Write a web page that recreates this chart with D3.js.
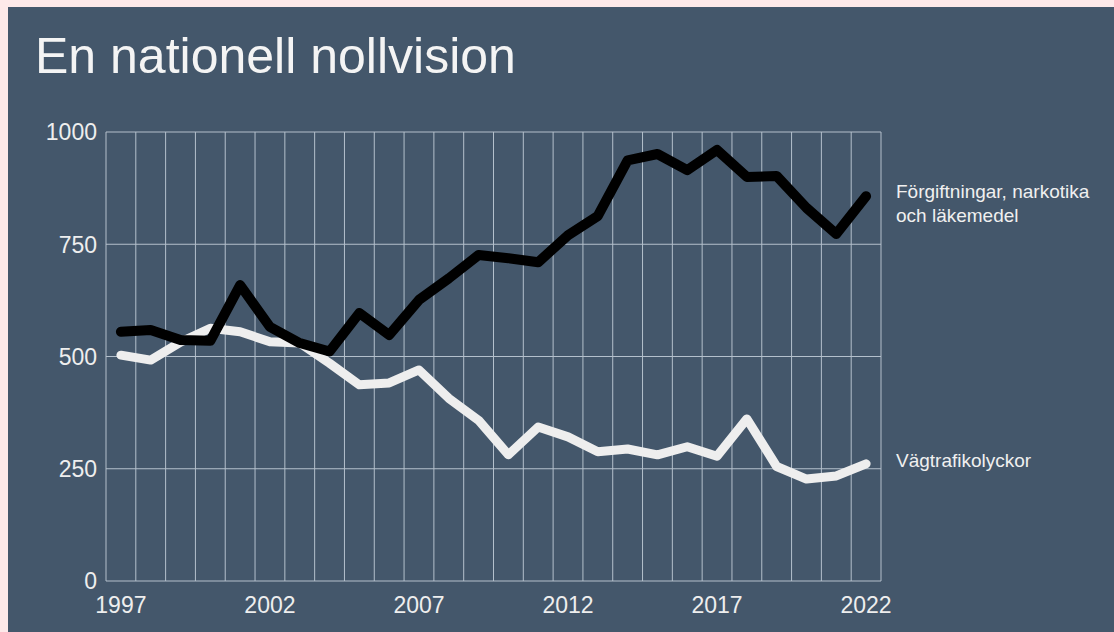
<!DOCTYPE html>
<html>

<head>
    <title>En nationell nollvision</title>
    <script src="https://d3js.org/d3.v7.min.js"></script>
    <style>
        body { margin: 0; background: #fde9e9; }
        text { font-family: "Liberation Sans", Arial, sans-serif; }
    </style>
</head>

<body>

    <svg width="1114" height="632" id="mainSvg"></svg>
    <script>
        const years = d3.range(1997, 2023);
        const yearLabels = [1997, 2002, 2007, 2012, 2017, 2022];
        const yTicks = [0, 250, 500, 750, 1000];

        // Förgiftningar, narkotika och läkemedel
        const poisoning = [555, 559, 537, 535, 659, 566, 530, 511, 597, 548, 626, 674, 726, 719, 710, 770, 813, 937, 951, 915, 960, 900, 902, 831, 773, 857];
        // Vägtrafikolyckor
        const traffic = [503, 492, 532, 563, 555, 533, 530, 485, 437, 441, 470, 407, 358, 281, 343, 321, 288, 294, 281, 299, 278, 361, 255, 227, 234, 261];

        const svg = d3.select('#mainSvg');

        // dark panel
        svg.append("rect")
            .attr("x", 8).attr("y", 7)
            .attr("width", 1114 - 8).attr("height", 632 - 7)
            .attr("fill", "#44576b");

        svg.append("text")
            .attr("x", 35).attr("y", 73)
            .attr("fill", "#f4f4f4")
            .attr("font-size", 50)
            .text("En nationell nollvision");

        const x = d3.scaleBand().domain(years).range([106, 881]).paddingInner(0).paddingOuter(0);
        const y = d3.scaleLinear().domain([0, 1000]).range([581, 132]);
        const cx = d => x(d) + x.bandwidth() / 2;

        const grid = svg.append("g").attr("stroke", "#b4c0cc").attr("stroke-width", 1);
        // vertical grid at band edges
        grid.selectAll(".vline").data(years.concat([2023])).join("line")
            .attr("class", "vline")
            .attr("x1", d => d === 2023 ? x.range()[1] : x(d))
            .attr("x2", d => d === 2023 ? x.range()[1] : x(d))
            .attr("y1", y(0)).attr("y2", y(1000));
        grid.selectAll(".hline").data(yTicks).join("line")
            .attr("class", "hline")
            .attr("x1", x.range()[0]).attr("x2", x.range()[1])
            .attr("y1", d => y(d)).attr("y2", d => y(d));

        svg.selectAll(".ylab").data(yTicks).join("text")
            .attr("class", "ylab")
            .attr("x", 97).attr("y", d => y(d))
            .attr("dy", "0.36em")
            .attr("text-anchor", "end")
            .attr("fill", "#eeeeee")
            .attr("font-size", 23)
            .text(d => d);

        svg.selectAll(".xlab").data(yearLabels).join("text")
            .attr("class", "xlab")
            .attr("x", d => cx(d)).attr("y", 613)
            .attr("text-anchor", "middle")
            .attr("fill", "#eeeeee")
            .attr("font-size", 23)
            .text(d => d);

        const line = d3.line()
            .x((d, i) => cx(years[i]))
            .y(d => y(d));

        svg.append("path")
            .attr("d", line(traffic))
            .attr("fill", "none")
            .attr("stroke", "#eeeeee")
            .attr("stroke-width", 9)
            .attr("stroke-linejoin", "round")
            .attr("stroke-linecap", "round");

        svg.append("path")
            .attr("d", line(poisoning))
            .attr("fill", "none")
            .attr("stroke", "#000000")
            .attr("stroke-width", 10)
            .attr("stroke-linejoin", "round")
            .attr("stroke-linecap", "round");

        const labels = svg.append("g").attr("fill", "#f0f0f0").attr("font-size", 19);
        labels.append("text").attr("x", 896).attr("y", 198).text("Förgiftningar, narkotika");
        labels.append("text").attr("x", 896).attr("y", 222).text("och läkemedel");
        labels.append("text").attr("x", 896).attr("y", 467).text("Vägtrafikolyckor");
    </script>
</body>

</html>
